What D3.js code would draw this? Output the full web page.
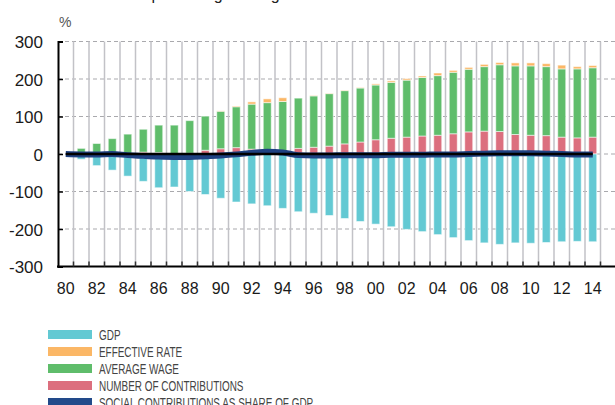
<!DOCTYPE html>
<html>
<head>
<meta charset="utf-8">
<script src="https://cdn.jsdelivr.net/npm/d3@7"></script>
<style>
  body { margin: 0; background: #fff; }
  svg { display: block; font-family: "Liberation Sans", Arial, sans-serif; }
</style>
</head>
<body>
<svg></svg>
<script>
const years = d3.range(1980, 2015);

// contributions to cumulative growth since 1980, %
const gdp = [0, -14, -31, -43, -59, -73, -88, -88, -100, -108, -118, -128, -133, -138, -145, -154, -158, -164, -172, -180,
  -187, -194, -201, -207, -215, -223, -231, -237, -241, -237, -238, -236, -234, -233, -234];
const effectiveRate = [0, 0, 0, 0, 0, 0, -2, 0, 0, 0, 1, 2, 6, 10, 10, 0, 1, 1, 1, 1,
  3, 4, 4, 4, 7, 5, 5, 6, 6, 8, 8, 8, 10, 6, 6];
const averageWage = [0, 15, 28, 41, 53, 61, 73, 77, 87, 91, 100, 109, 120, 129, 136, 134, 137, 140, 142, 144,
  146, 149, 152, 156, 159, 164, 167, 172, 178, 183, 185, 184, 182, 184, 185];
const numContributions = [0, 0, 0, 0, 0, 5, 4, 0, 2, 10, 14, 17, 13, 8, 4, 15, 18, 21, 27, 32,
  38, 42, 45, 48, 50, 54, 59, 61, 60, 52, 50, 49, 45, 43, 45];
const socialShare = [0, -1, -1, 0, -3, -5, -7, -8, -8, -6, -4, -1, 3, 6, 4, -3, -4, -4, -3, -3,
  -3, -2, -2, -2, -1, -1, 0, 1, 2, 2, 2, 1, 0, -1, -1];

const yTicks = [-300, -200, -100, 0, 100, 200, 300];
const xTickYears = years.filter((y) => y % 2 === 0);

const series = [
  { key: "gdp", label: "GDP", color: "#63c9d3", values: gdp },
  { key: "rate", label: "EFFECTIVE RATE", color: "#fbb766", values: effectiveRate },
  { key: "wage", label: "AVERAGE WAGE", color: "#5fbd6b", values: averageWage },
  { key: "num", label: "NUMBER OF CONTRIBUTIONS", color: "#dc6f7e", values: numContributions },
];
const lineColor = "#1f4282";

const svg = d3.select("svg");
const width = 615;
const height = 405;
svg.attr("width", width).attr("height", height);

const margin = { left: 58, right: 14.5, top: 41.5, bottom: 138.5 };

const table = years.map((year, i) => ({
  year,
  gdp: gdp[i],
  rate: effectiveRate[i],
  wage: averageWage[i],
  num: numContributions[i],
  share: socialShare[i],
}));

// pink first on top of zero, then green, then orange; negatives start with orange then GDP
const stack = d3.stack()
  .keys(["num", "wage", "rate", "gdp"])
  .offset(d3.stackOffsetDiverging);
const stacked = stack(table);
const colorOf = (key) => series.find((s) => s.key === key).color;

const xScale = d3.scaleBand()
  .domain(years)
  .range([margin.left, width - margin.right])
  .padding(0);
const yScale = d3.scaleLinear()
  .domain([-300, 300])
  .range([height - margin.bottom, margin.top]);

const barWidth = 8;
const cx = (year) => xScale(year) + xScale.bandwidth() / 2;

// horizontal dashed grid
svg.append("g")
  .selectAll("line")
  .data(yTicks.filter((t) => t > -300))
  .enter()
  .append("line")
  .attr("x1", margin.left)
  .attr("x2", width)
  .attr("y1", (d) => yScale(d))
  .attr("y2", (d) => yScale(d))
  .attr("stroke", "#a9a9ad")
  .attr("stroke-width", 1.2)
  .attr("stroke-dasharray", "4,3");

// vertical grid at band edges
const edges = years.map((y) => xScale(y)).concat([xScale(2014) + xScale.bandwidth()]).slice(1);
svg.append("g")
  .selectAll("line")
  .data(edges)
  .enter()
  .append("line")
  .attr("x1", (d) => d)
  .attr("x2", (d) => d)
  .attr("y1", yScale(300))
  .attr("y2", yScale(-300))
  .attr("stroke", "#c2c2c7")
  .attr("stroke-width", 1.5);

// bars
svg.append("g")
  .selectAll("g")
  .data(stacked)
  .enter()
  .append("g")
  .attr("fill", (d) => colorOf(d.key))
  .selectAll("rect")
  .data((d) => d.filter((p) => p[1] !== p[0]))
  .enter()
  .append("rect")
  .attr("x", (d) => cx(d.data.year) - barWidth / 2)
  .attr("width", barWidth)
  .attr("y", (d) => yScale(Math.max(d[0], d[1])))
  .attr("height", (d) => Math.abs(yScale(d[0]) - yScale(d[1])))
  .attr("stroke", "rgba(255,255,255,0.55)")
  .attr("stroke-width", 1);

// social contributions share line
const line = d3.line()
  .x((d) => cx(d.year))
  .y((d) => yScale(d.share))
  .curve(d3.curveMonotoneX);
svg.append("path")
  .datum(table)
  .attr("d", line)
  .attr("fill", "none")
  .attr("stroke", lineColor)
  .attr("stroke-width", 6);

// zero line
svg.append("line")
  .attr("x1", cx(1980))
  .attr("x2", cx(2014))
  .attr("y1", yScale(0))
  .attr("y2", yScale(0))
  .attr("stroke", "#000")
  .attr("stroke-width", 2.5);

// y axis
const yAxisG = svg.append("g").attr("transform", `translate(${margin.left},0)`);
yAxisG.call(d3.axisRight(yScale).tickValues(yTicks).tickSize(5).tickFormat(""));
yAxisG.select(".domain").attr("stroke", "#000").attr("stroke-width", 2);
yAxisG.selectAll(".tick line").attr("stroke", "#000").attr("stroke-width", 1.5);
yAxisG.selectAll(".tick")
  .append("text")
  .attr("x", -15)
  .attr("dy", "0.36em")
  .attr("text-anchor", "end")
  .attr("fill", "#1a1a1a")
  .style("font-size", "17px")
  .text((d) => d);

// x axis
const xAxisG = svg.append("g").attr("transform", `translate(0,${yScale(-300)})`);
xAxisG.append("line")
  .attr("x1", margin.left - 1)
  .attr("x2", width)
  .attr("stroke", "#000")
  .attr("stroke-width", 2);
xAxisG.selectAll(".xtick")
  .data(edges)
  .enter()
  .append("line")
  .attr("x1", (d) => d)
  .attr("x2", (d) => d)
  .attr("y1", 0)
  .attr("y2", -5)
  .attr("stroke", "#333")
  .attr("stroke-width", 1.5);
xAxisG.selectAll("text")
  .data(xTickYears)
  .enter()
  .append("text")
  .attr("x", (d) => cx(d))
  .attr("y", 27.5)
  .attr("text-anchor", "middle")
  .attr("fill", "#1a1a1a")
  .style("font-size", "16px")
  .text((d) => String(d % 100).padStart(2, "0"));

// unit and (cropped) title
svg.append("text")
  .attr("x", 59)
  .attr("y", 27)
  .attr("fill", "#555")
  .style("font-size", "14px")
  .text("%");
svg.append("text")
  .attr("x", 67)
  .attr("y", -0.5)
  .attr("fill", "#222")
  .style("font-size", "16px")
  .text("Cumulative percentage change in social contributions");

// legend (condensed type)
const legendItems = series.map((s) => ({ label: s.label, color: s.color }))
  .concat([{ label: "SOCIAL CONTRIBUTIONS AS SHARE OF GDP", color: "#224a8a" }]);
const legend = svg.append("g").attr("transform", "translate(48,330)");
const item = legend.selectAll("g")
  .data(legendItems)
  .enter()
  .append("g")
  .attr("transform", (d, i) => `translate(0,${i * 17})`);
item.append("rect")
  .attr("width", 44)
  .attr("height", 9)
  .attr("fill", (d) => d.color);
item.append("text")
  .attr("transform", "translate(51,9.5) scale(0.71,1)")
  .attr("fill", "#444")
  .style("font-size", "14px")
  .text((d) => d.label);
</script>
</body>
</html>
